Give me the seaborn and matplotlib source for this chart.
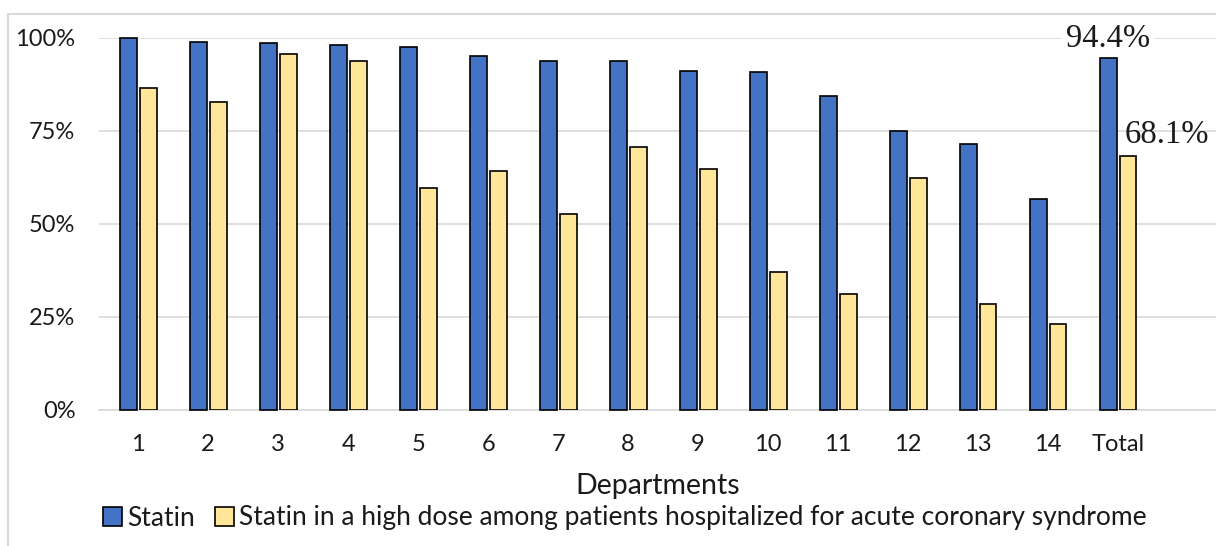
import matplotlib
matplotlib.use("Agg")
import matplotlib.pyplot as plt
from matplotlib.lines import Line2D
import seaborn as sns
import pandas as pd

departments = ["1", "2", "3", "4", "5", "6", "7", "8", "9", "10", "11", "12", "13", "14", "Total"]
statin = [100.0, 98.7, 98.5, 98.0, 97.4, 95.0, 93.8, 93.8, 91.1, 90.8, 84.4, 75.0, 71.4, 56.6, 94.4]
statin_high = [86.5, 82.8, 95.7, 93.6, 59.5, 64.1, 52.5, 70.6, 64.8, 37.0, 31.1, 62.4, 28.4, 23.1, 68.1]
series_names = ["Statin", "Statin in a high dose among patients hospitalized for acute coronary syndrome"]
yticks = [0, 25, 50, 75, 100]

df = pd.DataFrame({
    "dept": departments * 2,
    "value": statin + statin_high,
    "series": [series_names[0]] * len(departments) + [series_names[1]] * len(departments),
})

sns.set_theme(style="white")
plt.rcParams["font.family"] = ["Lato", "DejaVu Sans"]

fig = plt.figure(figsize=(12.16, 5.46), dpi=100)
ax = fig.add_axes([99 / 1216, 1 - 410 / 546, 1 - 99 / 1216, (410 - 37.5) / 546])

sns.barplot(data=df, x="dept", y="value", hue="series", order=departments,
            palette=["#4472C4", "#FFE699"], saturation=1, edgecolor="black", linewidth=1.2,
            width=0.57, gap=0.15, ax=ax, zorder=3)

ax.set_ylim(0, 100)
ax.set_xlim(-0.56, 15.4)
ax.set_yticks(yticks)
ax.set_yticklabels([f"{t}%" for t in yticks])
ax.yaxis.grid(True, color="#D9D9D9", linewidth=1.2, zorder=0)
ax.set_axisbelow(True)
for s in ["top", "right", "left"]:
    ax.spines[s].set_visible(False)
ax.spines["bottom"].set_color("#D9D9D9")
ax.spines["bottom"].set_linewidth(1.2)
ax.tick_params(axis="both", length=0, labelsize=17, colors="#1a1a1a")
ax.tick_params(axis="y", pad=17)
ax.tick_params(axis="x", pad=17)
ax.set_ylabel("")
ax.set_xlabel("Departments", fontsize=20.5, labelpad=13, color="#1a1a1a")
for b in ax.containers[0]:
    b.set_clip_on(False)

# value labels on the Total bars (kept below the bars so the white box only hides gridlines)
tot_a = ax.containers[0][-1]
tot_b = ax.containers[1][-1]
ax.annotate(f"{statin[-1]:.1f}%", (tot_a.get_x() + tot_a.get_width() / 2, tot_a.get_height()),
            xytext=(0, 8), textcoords="offset points", ha="center", va="baseline",
            family="Liberation Serif", fontsize=23.5, color="#1a1a1a", zorder=2.5,
            bbox=dict(boxstyle="square,pad=0.12", fc="white", ec="none"))
ax.annotate(f"{statin_high[-1]:.1f}%", (tot_b.get_x() + tot_b.get_width() / 2, tot_b.get_height()),
            xytext=(28, 9.4), textcoords="offset points", ha="center", va="baseline",
            family="Liberation Serif", fontsize=23.5, color="#1a1a1a", zorder=2.5)

handles, labels = ax.get_legend_handles_labels()
ax.legend(handles, labels, loc="center", bbox_to_anchor=(0.514, (546 - 518) / 546),
          bbox_transform=fig.transFigure, ncol=2, frameon=False, fontsize=19,
          handlelength=0.72, handleheight=0.72, handletextpad=0.2, columnspacing=0.75,
          borderaxespad=0, labelcolor="#1a1a1a")

# chart area border (cropped on the right and bottom)
fig.add_artist(Line2D([8 / 1216, 1.0], [1 - 14 / 546] * 2, color="#D9D9D9", lw=1.5))
fig.add_artist(Line2D([8 / 1216] * 2, [0, 1 - 14 / 546], color="#D9D9D9", lw=1.5))

fig.savefig("out.png", dpi=100)
